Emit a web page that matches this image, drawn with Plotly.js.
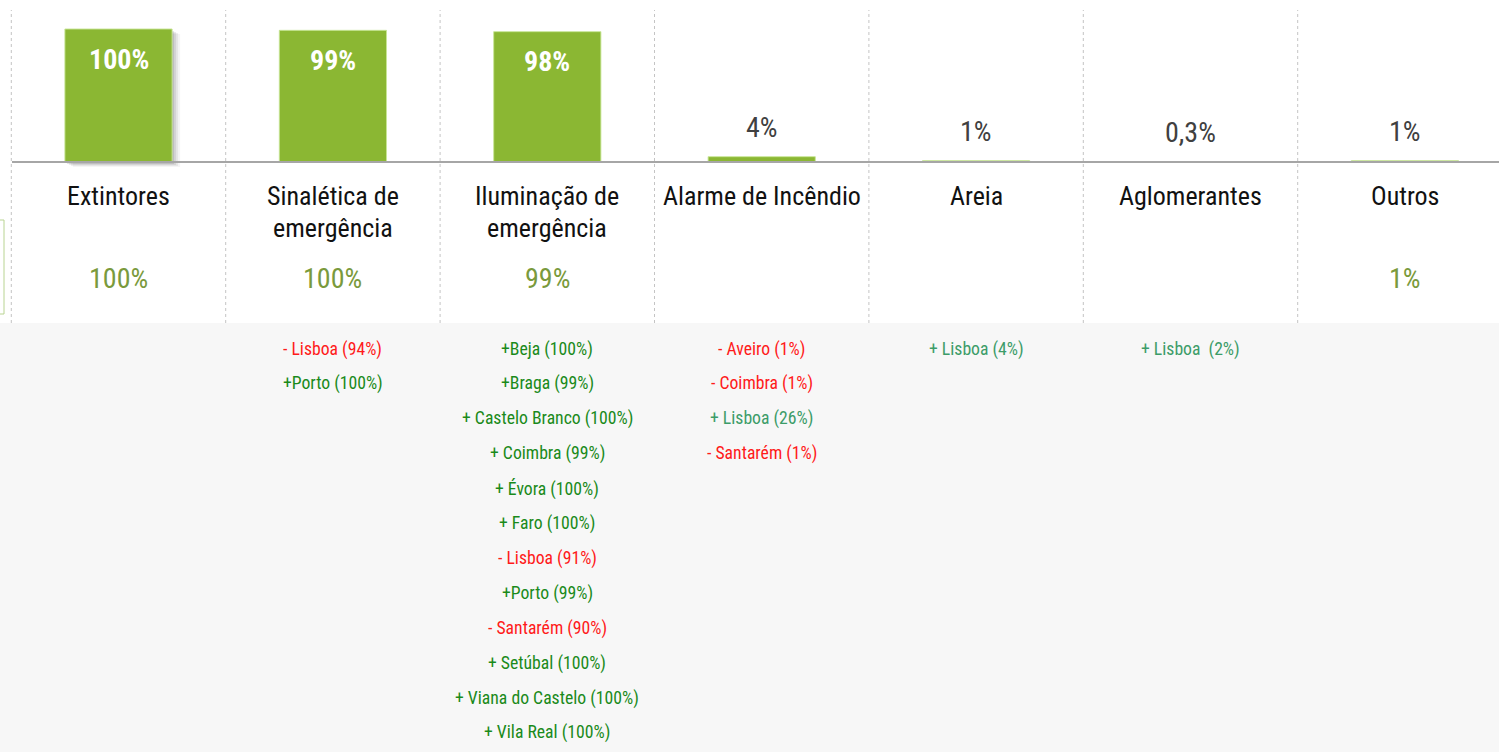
<!DOCTYPE html>
<html>
<head>
<meta charset="utf-8">
<script src="https://cdn.plot.ly/plotly-3.0.1.min.js"></script>
<style>
  html, body { margin: 0; padding: 0; background: #ffffff; }
  #chart { width: 1499px; height: 752px; }
</style>
</head>
<body>
<div id="chart"></div>
<script>
// ---- data ----
const categories = ['Extintores', 'Sinalética de<br>emergência', 'Iluminação de<br>emergência', 'Alarme de Incêndio', 'Areia', 'Aglomerantes', 'Outros'];
const values = [100, 99, 98, 4, 1, 0.3, 1];
const valueLabels = ['100%', '99%', '98%', '4%', '1%', '0,3%', '1%'];
const secondLabels = ['100%', '100%', '99%', '', '', '', '1%'];
const notesExtintores = [];
const notesSinaletica = ['- Lisboa (94%)', '+Porto (100%)'];
const notesIluminacao = ['+Beja (100%)', '+Braga (99%)', '+ Castelo Branco (100%)', '+ Coimbra (99%)', '+ Évora (100%)', '+ Faro (100%)', '- Lisboa (91%)', '+Porto (99%)', '- Santarém (90%)', '+ Setúbal (100%)', '+ Viana do Castelo (100%)', '+ Vila Real (100%)'];
const notesAlarme = ['- Aveiro (1%)', '- Coimbra (1%)', '+ Lisboa (26%)', '- Santarém (1%)'];
const notesAreia = ['+ Lisboa (4%)'];
const notesAglomerantes = ['+ Lisboa  (2%)'];
const notesOutros = [];
const notes = [notesExtintores, notesSinaletica, notesIluminacao, notesAlarme, notesAreia, notesAglomerantes, notesOutros];

// ---- layout constants ----
const W = 1499, H = 752;
const FONT = '"Liberation Sans Narrow", "Arial Narrow", "Roboto Condensed", "Liberation Sans", sans-serif';
const BIGW = 370, SMALLW = 400;
const colW = 214.4;            // pixels per category
const firstCenter = 118.5;     // pixel x of first category
const basePx = 162, topPx = 29; // pixel y of 0 and 100
const pxPerUnit = (basePx - topPx) / 100;
const xr = [-firstCenter / colW, (W - firstCenter) / colW];
const yr = [-(H - basePx) / pxPerUnit, 100 + topPx / pxPerUnit];
const py = p => 1 - p / H;     // pixel y -> paper y
const dyUnits = p => p / pxPerUnit; // pixel height -> data units
const dxUnits = p => p / colW;

const xs = categories.map((_, i) => i);
const barW = 0.5;
const barColor = '#8bb733';

const trace = {
  type: 'bar',
  x: xs,
  y: values,
  width: barW,
  marker: { color: barColor, line: { color: 'rgba(200,230,150,0.9)', width: 1 } },
  hoverinfo: 'none'
};

const shapes = [];
// bottom gray band
shapes.push({ type: 'rect', xref: 'paper', yref: 'paper', x0: 0, x1: 1, y0: 0, y1: py(323),
  fillcolor: '#f7f7f7', line: { width: 0 }, layer: 'below' });
// dotted column separators
for (let i = 0; i < categories.length; i++) {
  shapes.push({ type: 'line', xref: 'x', yref: 'paper', x0: i - 0.5, x1: i - 0.5, y0: py(323), y1: py(10),
    line: { color: '#c4c4c4', width: 1, dash: 'dot' }, layer: 'below' });
}
// shadow under first bar
[[2, 2, 0.10], [4, 3, 0.08], [6, 4, 0.06], [8, 5, 0.04]].forEach(([ox, oy, a]) => {
  shapes.push({ type: 'rect', xref: 'x', yref: 'y',
    x0: xs[0] - barW / 2 + dxUnits(ox), x1: xs[0] + barW / 2 + dxUnits(ox),
    y0: -dyUnits(oy), y1: values[0] - dyUnits(oy),
    fillcolor: 'rgba(0,0,0,' + a + ')', line: { width: 0 }, layer: 'below' });
});
// baseline
shapes.push({ type: 'line', xref: 'paper', yref: 'y', x0: 12 / W, x1: 1, y0: 0, y1: 0,
  line: { color: '#a6a6a6', width: 2 }, layer: 'above' });
// partial green box at left edge
shapes.push({ type: 'rect', xref: 'paper', yref: 'paper', x0: -0.01, x1: 4 / W, y0: py(314), y1: py(220),
  line: { color: '#b9d492', width: 1 }, fillcolor: 'rgba(0,0,0,0)' });

const annotations = [];
xs.forEach((x, i) => {
  const big = values[i] >= 50;
  annotations.push({
    x: x, y: values[i], xref: 'x', yref: 'y', text: valueLabels[i], showarrow: false,
    yanchor: 'middle', yshift: big ? -30 : 29,
    font: { family: FONT, size: 28, color: big ? '#ffffff' : '#404040', weight: big ? 'bold' : BIGW }
  });
  categories[i].split('<br>').forEach((line, k) => {
    annotations.push({
      x: x, y: py(196 + 32 * k), xref: 'x', yref: 'paper', text: line, showarrow: false,
      yanchor: 'middle', font: { family: FONT, size: 26, color: '#111111', weight: BIGW }
    });
  });
  if (secondLabels[i]) {
    annotations.push({
      x: x, y: py(278), xref: 'x', yref: 'paper', text: secondLabels[i], showarrow: false,
      yanchor: 'middle', font: { family: FONT, size: 28, color: '#7a9a3c', weight: BIGW }
    });
  }
  notes[i].forEach((t, k) => {
    const neg = t.trim().startsWith('-');
    const col = neg ? '#ff1a1a' : (i >= 3 ? '#3c9c68' : '#1a8a1a');
    annotations.push({
      x: x, y: py(349 + 34.9 * k), xref: 'x', yref: 'paper', text: t.replace(/  /g, ' &nbsp;'), showarrow: false,
      yanchor: 'middle', font: { family: FONT, size: 17.7, color: col, weight: SMALLW }
    });
  });
});

const layout = {
  width: W, height: H,
  margin: { l: 0, r: 0, t: 0, b: 0, pad: 0 },
  paper_bgcolor: '#ffffff', plot_bgcolor: 'rgba(0,0,0,0)',
  showlegend: false,
  xaxis: { range: xr, showgrid: false, zeroline: false, showticklabels: false, showline: false, ticks: '' },
  yaxis: { range: yr, showgrid: false, zeroline: false, showticklabels: false, showline: false, ticks: '' },
  shapes: shapes,
  annotations: annotations,
  bargap: 0
};

Plotly.newPlot('chart', [trace], layout, { staticPlot: true, displayModeBar: false });
</script>
</body>
</html>
